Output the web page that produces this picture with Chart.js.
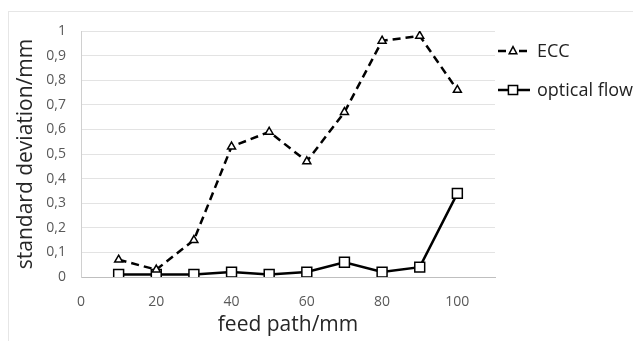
<!DOCTYPE html>
<html>
<head>
<meta charset="utf-8">
<script src="https://cdn.jsdelivr.net/npm/chart.js@4/dist/chart.umd.min.js"></script>
<style>
html,body{margin:0;padding:0;background:#fff;}
#wrap{width:633px;height:341px;position:relative;}
</style>
</head>
<body>
<div id="wrap"><canvas id="c" width="633" height="341"></canvas></div>
<script>
const feedPath = [10, 20, 30, 40, 50, 60, 70, 80, 90, 100];
const eccValues = [0.07, 0.03, 0.15, 0.53, 0.59, 0.47, 0.67, 0.96, 0.98, 0.76];
const opticalFlowValues = [0.01, 0.01, 0.01, 0.02, 0.01, 0.02, 0.06, 0.02, 0.04, 0.34];
const xTicks = [0, 20, 40, 60, 80, 100];
const yTicks = [0, 0.1, 0.2, 0.3, 0.4, 0.5, 0.6, 0.7, 0.8, 0.9, 1];
const seriesNames = ['ECC', 'optical flow'];
const xTitle = 'feed path/mm';
const yTitle = 'standard deviation/mm';

const FONT = '"Open Sans", "DejaVu Sans", sans-serif';

const frame = {
  id: 'frame',
  beforeDraw(chart) {
    const ctx = chart.ctx;
    ctx.save();
    ctx.fillStyle = '#fff';
    ctx.fillRect(0, 0, chart.width, chart.height);
    ctx.strokeStyle = '#e6e6e6';
    ctx.lineWidth = 1;
    ctx.strokeRect(8.5, 11.5, chart.width + 10, chart.height + 10);
    ctx.restore();
  }
};

function drawMarker(ctx, style, r, x, y) {
  ctx.save();
  ctx.fillStyle = '#fff';
  ctx.strokeStyle = '#000';
  ctx.lineWidth = 1.5;
  ctx.beginPath();
  if (style === 'triangle') {
    ctx.moveTo(x, y - r);
    ctx.lineTo(x + r * Math.sin(Math.PI / 3), y + r * 0.5 + 0.5);
    ctx.lineTo(x - r * Math.sin(Math.PI / 3), y + r * 0.5 + 0.5);
    ctx.closePath();
  } else {
    const s = Math.SQRT1_2 * r;
    ctx.rect(x - s, y - s, 2 * s, 2 * s);
  }
  ctx.fill();
  ctx.stroke();
  ctx.restore();
}

const sideLegend = {
  id: 'sideLegend',
  afterDraw(chart) {
    const ctx = chart.ctx;
    const ys = [51, 90];
    ctx.save();
    chart.data.datasets.forEach((ds, i) => {
      const y = ys[i];
      ctx.strokeStyle = '#000';
      ctx.lineWidth = 2.5;
      ctx.beginPath();
      if (ds.borderDash && ds.borderDash.length) {
        ctx.moveTo(498, y); ctx.lineTo(506, y);
        ctx.moveTo(519, y); ctx.lineTo(527, y);
      } else {
        ctx.moveTo(498, y); ctx.lineTo(530, y);
      }
      ctx.stroke();
      drawMarker(ctx, ds.pointStyle, ds.pointStyle === 'rect' ? 6.5 : 4.4, 513, y);
      ctx.fillStyle = '#222';
      ctx.font = '18px ' + FONT;
      ctx.textBaseline = 'middle';
      ctx.textAlign = 'left';
      ctx.fillText(ds.label, 537, y + 1);
    });
    ctx.restore();
  }
};

new Chart(document.getElementById('c'), {
  type: 'line',
  data: {
    datasets: [
      {
        label: seriesNames[0],
        data: feedPath.map((x, i) => ({ x, y: eccValues[i] })),
        borderColor: '#000',
        borderWidth: 2.5,
        borderDash: [8, 5],
        pointStyle: 'triangle',
        pointRadius: 4.6,
        pointBorderWidth: 1.5,
        pointBackgroundColor: '#fff',
        pointBorderColor: '#000',
        tension: 0
      },
      {
        label: seriesNames[1],
        data: feedPath.map((x, i) => ({ x, y: opticalFlowValues[i] })),
        borderColor: '#000',
        borderWidth: 2.5,
        pointStyle: 'rect',
        pointRadius: 7,
        pointBorderWidth: 1.5,
        pointBackgroundColor: '#fff',
        pointBorderColor: '#000',
        tension: 0
      }
    ]
  },
  options: {
    responsive: false,
    animation: false,
    devicePixelRatio: 1,
    layout: { padding: { left: 8, top: 31, right: 138, bottom: 0 } },
    plugins: { legend: { display: false }, tooltip: { enabled: false } },
    scales: {
      x: {
        type: 'linear',
        min: 0,
        max: 110,
        afterBuildTicks(scale) { scale.ticks = xTicks.map(v => ({ value: v })); },
        afterFit(scale) { scale.height = 64; },
        grid: { display: false, drawTicks: false },
        border: { display: true, color: '#bfbfbf', width: 1 },
        ticks: { color: '#595959', font: { family: FONT, size: 14 }, padding: 17, maxRotation: 0 },
        title: { display: true, text: xTitle, color: '#262626', font: { family: FONT, size: 21 }, padding: { top: 0, bottom: 3 } }
      },
      y: {
        type: 'linear',
        min: 0,
        max: 1,
        afterBuildTicks(scale) { scale.ticks = yTicks.map(v => ({ value: v })); },
        afterFit(scale) { scale.width = 73; },
        grid: { color: '#e3e3e3', drawTicks: false },
        border: { display: true, color: '#d0d0d0', width: 1 },
        ticks: {
          color: '#595959', font: { family: FONT, size: 14 }, padding: 15,
          callback: v => String(Math.round(v * 10) / 10).replace('.', ',')
        },
        title: { display: true, text: yTitle, color: '#262626', font: { family: FONT, size: 21 }, padding: { top: 5, bottom: 0 } }
      }
    }
  },
  plugins: [frame, sideLegend]
});
</script>
</body>
</html>
